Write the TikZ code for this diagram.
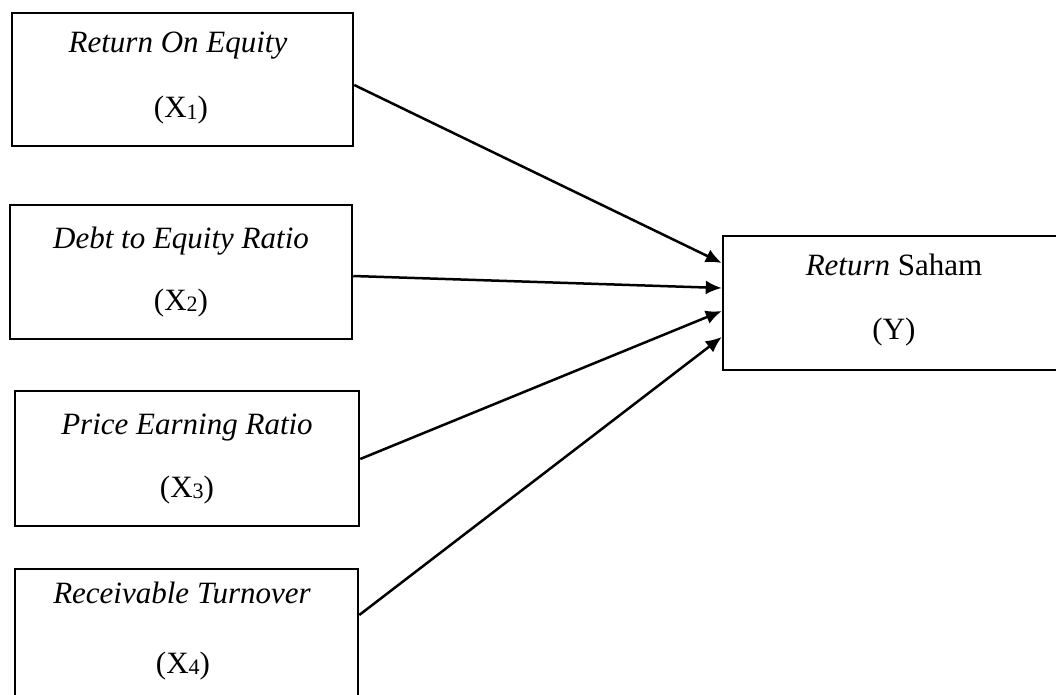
\documentclass[tikz,border=0pt]{standalone}
\usepackage{fontspec}
\setmainfont{Liberation Serif}
\usetikzlibrary{arrows.meta}
\newcommand{\sbs}[1]{\raisebox{-1.5pt}{\fontsize{22}{22}\selectfont #1}}
\begin{document}
\begin{tikzpicture}[x=1pt,y=-1pt,
  box/.style={draw,line width=2.5pt,rectangle,inner sep=0pt},
  lbl/.style={font=\fontsize{31}{37}\selectfont,anchor=base,inner sep=0pt},
  link/.style={line width=2.5pt,-{Latex[length=16pt,width=14pt]}}]
\useasboundingbox (0,0) rectangle (1056,695);
\clip (0,0) rectangle (1056,695);
% boxes
\node[box,minimum width=341pt,minimum height=133pt] (b1) at (182.5,79.5) {};
\node[box,minimum width=342pt,minimum height=134pt] (b2) at (181,272) {};
\node[box,minimum width=344pt,minimum height=135pt] (b3) at (187,458.5) {};
\node[box,minimum width=343pt,minimum height=134pt] (b4) at (186.5,636) {};
\node[box,minimum width=342pt,minimum height=134pt] (by) at (894,303) {};
% labels
\node[lbl] (t1a) at (178,53) {\textit{Return On Equity}};
\node[lbl] (t1b) at (181,118) {(X\sbs{1})};
\node[lbl] (t2a) at (181,248) {\textit{Debt to Equity Ratio}};
\node[lbl] (t2b) at (181,310) {(X\sbs{2})};
\node[lbl] (t3a) at (187,434) {\textit{Price Earning Ratio}};
\node[lbl] (t3b) at (187,497) {(X\sbs{3})};
\node[lbl] (t4a) at (182,603) {\textit{Receivable Turnover}};
\node[lbl] (t4b) at (183,673) {(X\sbs{4})};
\node[lbl] (tya) at (894,275) {\textit{Return} Saham};
\node[lbl] (tyb) at (894,339) {(Y)};
% connectors
\draw[link] ([yshift=-5.5pt]b1.east) -- ([yshift=40pt]by.west);
\draw[link] ([yshift=-4pt]b2.east) -- ([yshift=15pt]by.west);
\draw[link] ([yshift=-0.5pt]b3.east) -- ([yshift=-8pt]by.west);
\draw[link] ([yshift=21pt]b4.east) -- ([yshift=-34pt]by.west);
\end{tikzpicture}
\end{document}
